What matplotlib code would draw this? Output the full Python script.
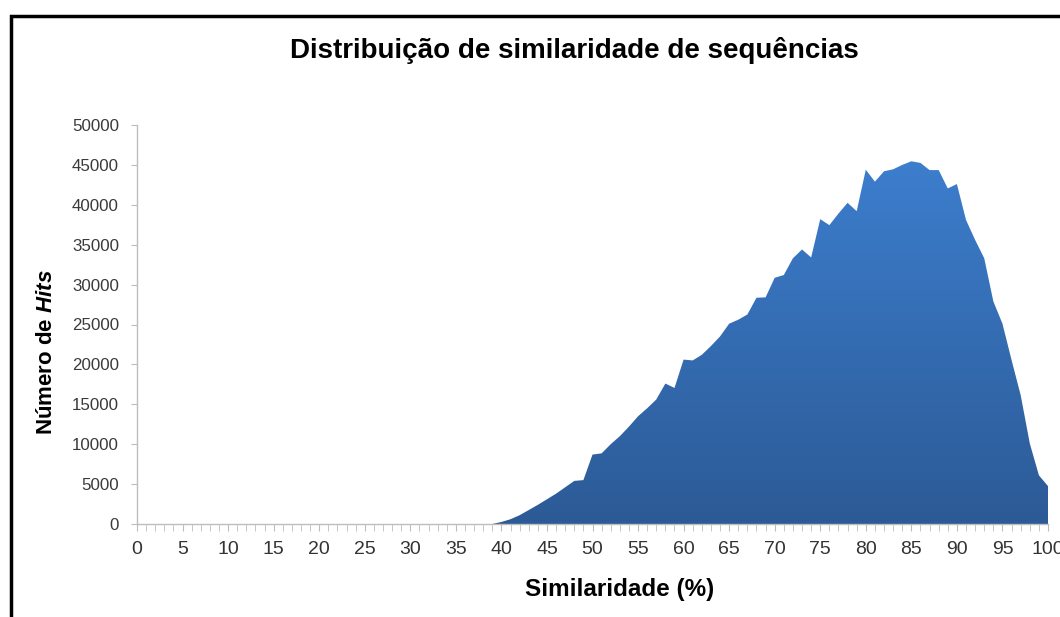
import matplotlib

matplotlib.use("Agg")
import matplotlib.pyplot as plt
import numpy as np
from matplotlib.patches import Rectangle, Polygon
from matplotlib.ticker import MultipleLocator

plt.rcParams.update(
    {
        "font.family": ["Liberation Sans", "DejaVu Sans"],
        "mathtext.fontset": "custom",
        "mathtext.it": "Liberation Sans:italic:bold",
        "mathtext.rm": "Liberation Sans:bold",
    }
)

# similarity (%) 0..100, number of hits at each integer
similarity = list(range(0, 101))
hits = [0] * 39 + [
    0, 250, 600, 1100, 1750, 2400, 3100, 3800, 4600, 5400, 5500,  # 39-49
    8700, 8850, 10000, 11000, 12200, 13500, 14500, 15600, 17600, 17050,  # 50-59
    20600, 20500, 21200, 22300, 23500, 25100, 25600, 26250, 28350, 28400,  # 60-69
    30850, 31200, 33300, 34400, 33400, 38200, 37450, 38900, 40250, 39200,  # 70-79
    44400, 42900, 44200, 44450, 45000, 45450, 45250, 44350, 44350, 42050,  # 80-89
    42600, 38100, 35600, 33300, 27900, 25100, 20550, 16150, 10100, 6100,  # 90-99
    4750,  # 100
]

TITLE = "Distribuição de similaridade de sequências"
XLABEL = "Similaridade (%)"
YLABEL = "Número de $Hits$"

fig = plt.figure(figsize=(10.6, 6.17), dpi=100)
ax = fig.add_axes([137 / 1060, 1 - 524 / 617, (1048 - 137) / 1060, (524 - 125) / 617])

x = np.asarray(similarity, dtype=float)
y = np.asarray(hits, dtype=float)

# gradient-filled area
verts = np.vstack([np.column_stack([x, y]), [[x[-1], 0], [x[0], 0]]])
poly = Polygon(verts, closed=True, facecolor="none", edgecolor="none")
ax.add_patch(poly)
grad = np.linspace(0, 1, 256).reshape(-1, 1)
cmap = matplotlib.colors.LinearSegmentedColormap.from_list("blu", ["#2C5A96", "#3D7FCF"])
im = ax.imshow(grad, cmap=cmap, aspect="auto", origin="lower",
               extent=[0, 100, 0, 47000], zorder=1)
im.set_clip_path(poly)

ax.set_xlim(0, 100)
ax.set_ylim(0, 50000)
ax.xaxis.set_major_locator(MultipleLocator(5))
ax.xaxis.set_minor_locator(MultipleLocator(1))
ax.yaxis.set_major_locator(MultipleLocator(5000))
ax.tick_params(axis="x", which="both", direction="out", length=5, color="#BDBDBD",
               labelsize=14, pad=7, labelcolor="#333333")
ax.tick_params(axis="y", which="major", direction="out", length=4, color="#BDBDBD",
               labelsize=12.2, pad=9, labelcolor="#3A3A3A")
for side in ("top", "right"):
    ax.spines[side].set_visible(False)
for side in ("left", "bottom"):
    ax.spines[side].set_color("#BDBDBD")
    ax.spines[side].set_linewidth(1.0)

ax.set_xlabel(XLABEL, fontsize=17.5, fontweight="bold")
ax.xaxis.set_label_coords((620 - 137) / (1048 - 137), -0.135)
ax.set_ylabel(YLABEL, fontsize=16, fontweight="bold")
ax.yaxis.set_label_coords(-0.088, 0.43)

fig.text(574 / 1060, 1 - 51 / 617, TITLE, ha="center", va="center",
         fontsize=20, fontweight="bold")

# outer chart frame
fig.patches.append(Rectangle((11 / 1060, -0.2), 1.2, 1.2 - 16 / 617,
                             transform=fig.transFigure, fill=False,
                             edgecolor="black", linewidth=2.5))

fig.savefig("out.png", dpi=100)
